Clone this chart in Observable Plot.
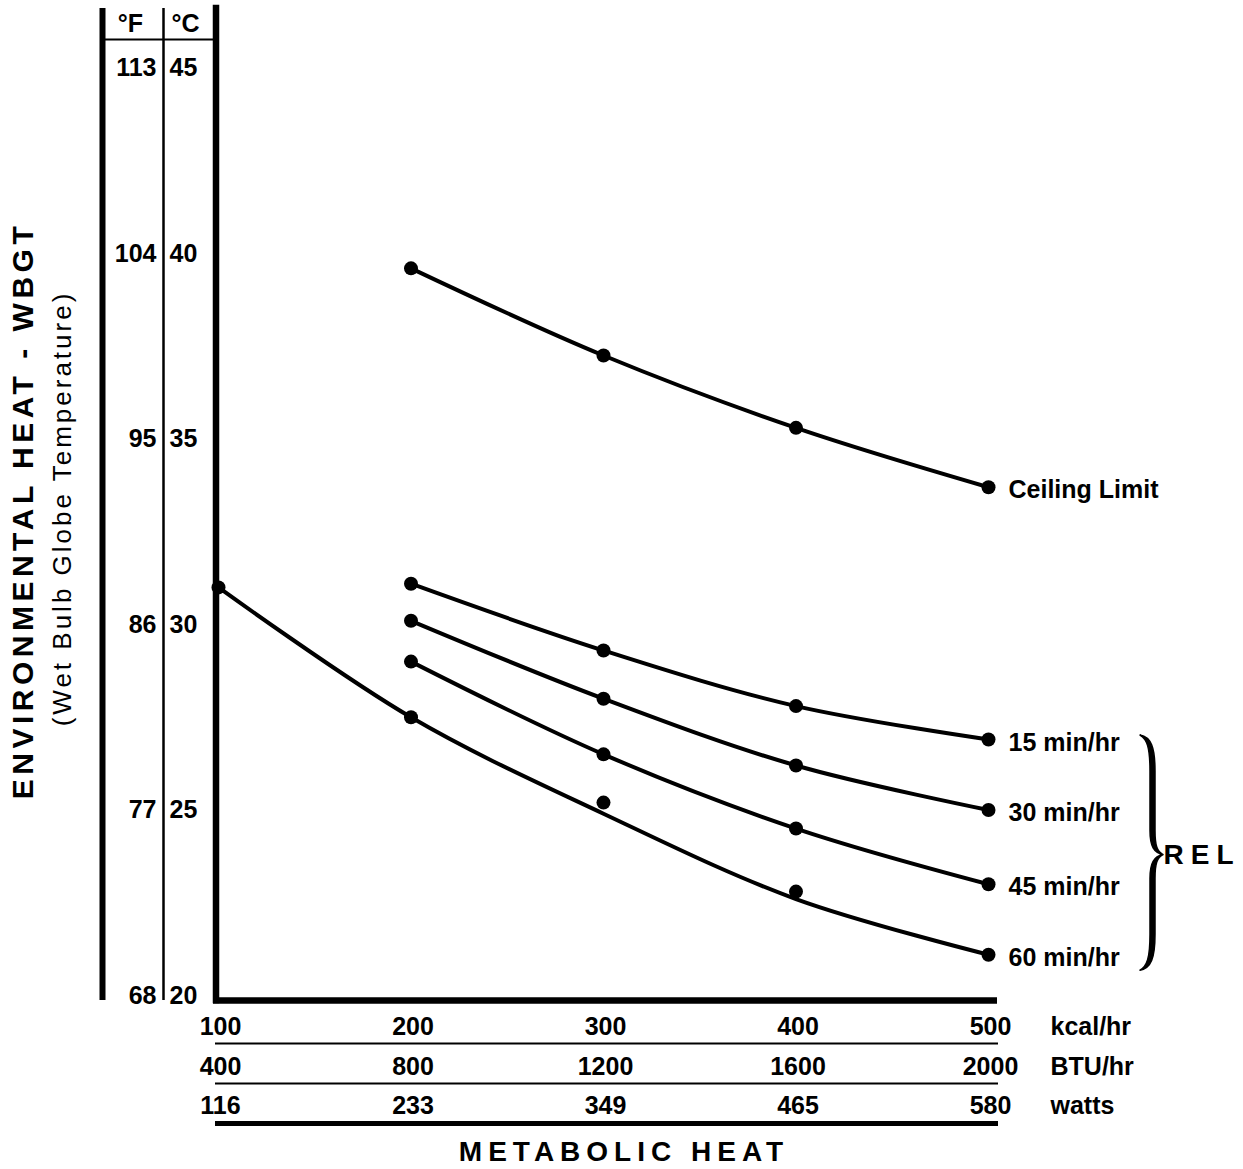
<!DOCTYPE html>
<html><head><meta charset="utf-8">
<script src="https://cdn.jsdelivr.net/npm/d3@7"></script>
<script src="https://cdn.jsdelivr.net/npm/@observablehq/plot@0.6"></script>
<style>html,body{margin:0;padding:0;background:#fff}#chart{width:1243px;height:1169px}</style>
</head><body><div id="chart"></div>
<script>
// ---- data ----
const kcalTicks = [100, 200, 300, 400, 500];
const btuTicks = [400, 800, 1200, 1600, 2000];
const wattTicks = [116, 233, 349, 465, 580];
const unitLabels = ["kcal/hr", "BTU/hr", "watts"];
const celsiusTicks = [20, 25, 30, 35, 40, 45];
const fahrenheitTicks = [68, 77, 86, 95, 104, 113];
const seriesNames = ["Ceiling Limit", "15 min/hr", "30 min/hr", "45 min/hr", "60 min/hr"];
const ceilingLimit = [null, 39.6, 37.25, 35.3, 33.7];
const rel15 = [null, 31.1, 29.3, 27.8, 26.9];
const rel30 = [null, 30.1, 28.0, 26.2, 25.0];
const rel45 = [null, 29.0, 26.5, 24.5, 23.0];
const rel60Points = [31.0, 27.5, 25.2, 22.8, 21.1];
const rel60Curve = [31.0, 27.5, 24.9, 22.6, 21.1];

(function () {
// ---- tables ----
const curveSeries = [ceilingLimit, rel15, rel30, rel45, rel60Curve];
const pointSeries = [ceilingLimit, rel15, rel30, rel45, rel60Points];
const toRows = (arrs) => seriesNames.flatMap((s, i) =>
  kcalTicks.map((k, j) => ({series: s, kcal: k, wbgt: arrs[i][j]})).filter(d => d.wbgt != null));
const curveRows = toRows(curveSeries);
const pointRows = toRows(pointSeries);
const labelRows = seriesNames.map((s, i) => ({series: s, kcal: kcalTicks[4], wbgt: pointSeries[i][4]}));

// ---- layout ----
const W = 1243, H = 1169;
const X_DOMAIN = [100, 500], X_RANGE = [218, 988];
const Y_DOMAIN = [20, 45], Y_RANGE = [995, 67.5];
const xAt = d3.scaleLinear(X_RANGE, X_DOMAIN); // pixel -> kcal (for frame rules)
const FONT = "'Liberation Sans', Arial, Helvetica, sans-serif";
const rowOffsets = [26, 66, 105];
const tickRows = [kcalTicks, btuTicks, wattTicks];
const mid = {textAnchor: "middle", lineAnchor: "middle"};

const marks = [
  Plot.ruleX([X_DOMAIN[0]], {dx: -116, strokeWidth: 6}),
  Plot.ruleX([X_DOMAIN[0]], {dx: -55, strokeWidth: 2.5}),
  Plot.ruleY([Y_DOMAIN[1]], {dy: -28.5, x1: xAt(104), x2: xAt(213), strokeWidth: 2}),
  Plot.text(["°F"], {frameAnchor: "top-left", dx: -86, dy: 15, ...mid}),
  Plot.text(["°C"], {frameAnchor: "top-left", dx: -31, dy: 15, ...mid}),
  Plot.text(celsiusTicks, {y: d => d, text: d => String(d), frameAnchor: "left", dx: -47, textAnchor: "start", lineAnchor: "middle"}),
  Plot.text(fahrenheitTicks, {y: (d, i) => celsiusTicks[i], text: d => String(d), frameAnchor: "left", dx: -60, textAnchor: "end", lineAnchor: "middle"}),
  Plot.ruleX([X_DOMAIN[0]], {dx: -2.5, strokeWidth: 6.5, strokeLinecap: "square"}),
  Plot.ruleY([Y_DOMAIN[0]], {dy: 5, x1: xAt(213), x2: xAt(997), strokeWidth: 6.5}),
  Plot.ruleY([Y_DOMAIN[0]], {dy: 48, x1: xAt(215), x2: xAt(998), strokeWidth: 2}),
  Plot.ruleY([Y_DOMAIN[0]], {dy: 88, x1: xAt(215), x2: xAt(998), strokeWidth: 2}),
  Plot.ruleY([Y_DOMAIN[0]], {dy: 128, x1: xAt(215), x2: xAt(998), strokeWidth: 5}),
  Plot.line(curveRows, {x: "kcal", y: "wbgt", z: "series", curve: "catmull-rom", strokeWidth: 4, stroke: "#000"}),
  Plot.dot(pointRows, {x: "kcal", y: "wbgt", r: 7, fill: "#000", stroke: null}),
  Plot.text(labelRows, {x: "kcal", y: "wbgt", text: "series", dx: 20, dy: 3, textAnchor: "start", lineAnchor: "middle"}),
  Plot.text(["REL"], {x: () => X_DOMAIN[1], y: () => (rel15[4] + rel60Points[4]) / 2, dx: 175, dy: 8, textAnchor: "start", lineAnchor: "middle", fontSize: 28}),
  Plot.text(["METABOLIC HEAT"], {frameAnchor: "bottom", dx: 17, dy: 152, fontSize: 28, ...mid}),
  Plot.text(["ENVIRONMENTAL HEAT - WBGT"], {frameAnchor: "left", dx: -193, dy: 6, rotate: -90, fontSize: 30, ...mid}),
  Plot.text(["(Wet Bulb Globe Temperature)"], {frameAnchor: "left", dx: -154, dy: 4, rotate: -90, fontSize: 26, fontWeight: "normal", ...mid})
];
tickRows.forEach((row, r) => {
  marks.push(Plot.text(row, {x: (d, i) => kcalTicks[i], text: d => String(d), frameAnchor: "bottom", dy: rowOffsets[r], dx: 2, ...mid}));
  marks.push(Plot.text([unitLabels[r]], {x: () => X_DOMAIN[1], frameAnchor: "bottom", dy: rowOffsets[r], dx: 62, textAnchor: "start", lineAnchor: "middle"}));
});

const plot = Plot.plot({
  width: W, height: H,
  marginLeft: 216, marginRight: 246, marginTop: 8, marginBottom: 169,
  x: {domain: X_DOMAIN, range: X_RANGE, axis: null},
  y: {domain: Y_DOMAIN, range: Y_RANGE, axis: null},
  style: {fontFamily: FONT, fontSize: "25px", fontWeight: "bold", background: "#fff", color: "#000", overflow: "visible"},
  marks
});

const svg = d3.select(plot);
const spacing = {"METABOLIC HEAT": 6, "ENVIRONMENTAL HEAT - WBGT": 4.5, "(Wet Bulb Globe Temperature)": 3, "REL": 7};
svg.selectAll("text").each(function () {
  const s = spacing[this.textContent];
  if (s != null) d3.select(this).attr("letter-spacing", s);
});

// curly brace grouping the REL curves (filled, thicker in the middle)
const sx = plot.scale("x"), sy = plot.scale("y");
const bx = sx.apply(X_DOMAIN[1]) + 152;
const yTop = sy.apply(rel15[4]) - 4, yBot = sy.apply(rel60Points[4]) + 16, yMid = (yTop + yBot) / 2 + 2;
const o = 15, i = 10, t = 23;
const p = d3.path();
p.moveTo(bx, yTop);
p.bezierCurveTo(bx + 11, yTop + 2, bx + o, yTop + 12, bx + o, yTop + 36);
p.lineTo(bx + o, yMid - 24);
p.bezierCurveTo(bx + o, yMid - 9, bx + 17, yMid - 3, bx + t, yMid);
p.bezierCurveTo(bx + 17, yMid + 3, bx + o, yMid + 9, bx + o, yMid + 24);
p.lineTo(bx + o, yBot - 36);
p.bezierCurveTo(bx + o, yBot - 12, bx + 11, yBot - 2, bx, yBot);
p.bezierCurveTo(bx + 7, yBot - 4, bx + i, yBot - 12, bx + i, yBot - 36);
p.lineTo(bx + i, yMid + 24);
p.bezierCurveTo(bx + i, yMid + 8, bx + 14, yMid + 2, bx + t, yMid);
p.bezierCurveTo(bx + 14, yMid - 2, bx + i, yMid - 8, bx + i, yMid - 24);
p.lineTo(bx + i, yTop + 36);
p.bezierCurveTo(bx + i, yTop + 12, bx + 7, yTop + 4, bx, yTop);
p.closePath();
svg.append("path").attr("d", p.toString()).attr("fill", "#000").attr("stroke", "#000").attr("stroke-width", 1.5).attr("stroke-linejoin", "round");

document.getElementById("chart").appendChild(plot);
})();
</script>
</body></html>
